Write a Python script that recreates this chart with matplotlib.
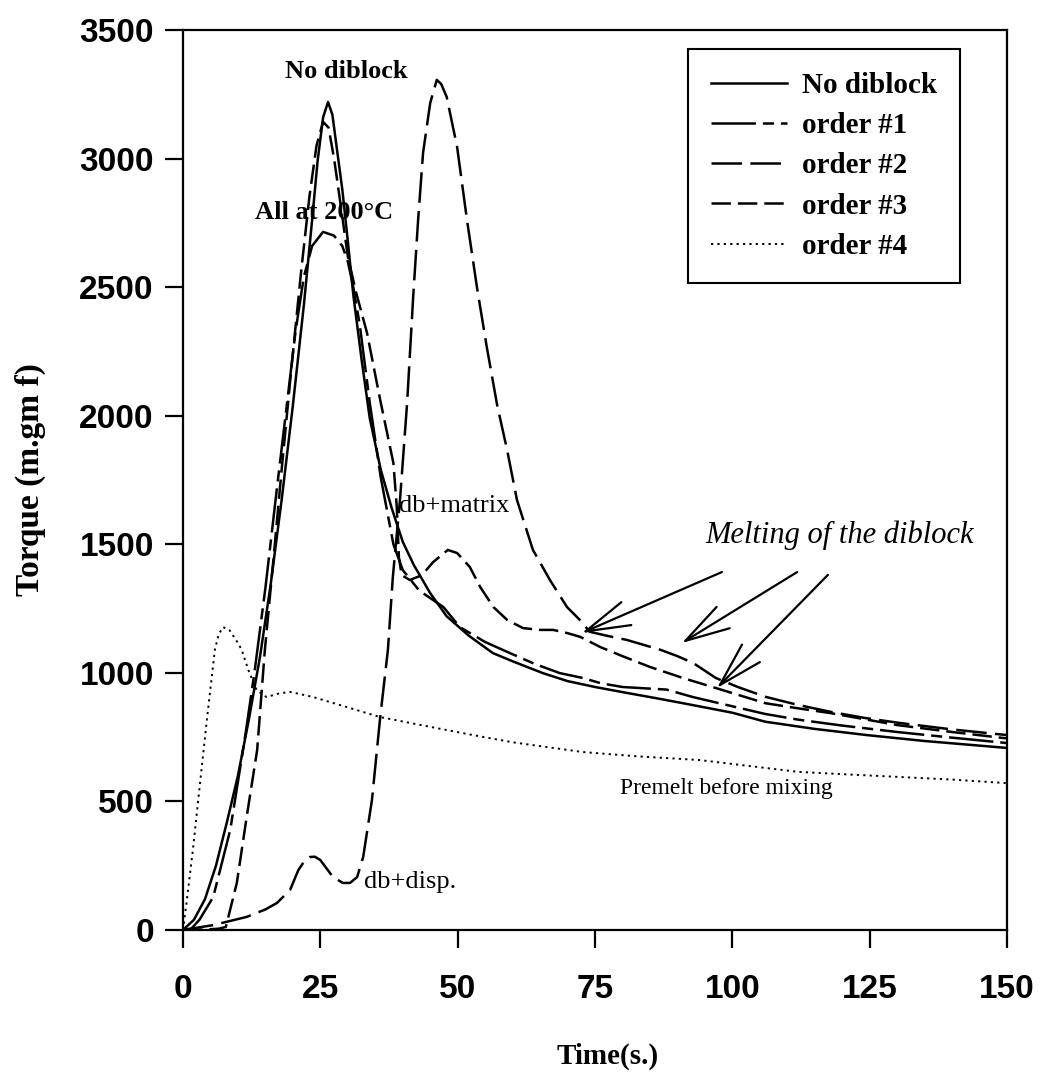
import numpy as np
import matplotlib
matplotlib.use('Agg')
import matplotlib.pyplot as plt

plt.rc('font', family='Liberation Sans', weight='bold', size=22)
plt.rc('lines', linewidth=1.8, scale_dashes=False)
plt.rc('axes', linewidth=1.6)

SERIF = 'Liberation Serif'

# torque traces, time in s and torque in m.gm f
t_nodb = [0, 2, 4, 6, 8, 10, 12, 14, 16, 18, 20, 22, 23.5, 24.5, 25.5, 26.4, 27.2, 28, 29, 30,
          31, 32.5, 34, 36, 38, 40, 42, 45, 48, 52, 56.4, 60, 65.5, 70, 75, 80.8, 86, 91, 100,
          106, 115, 124.5, 135, 150]
v_nodb = [0, 40, 120, 250, 420, 600, 820, 1060, 1350, 1680, 2040, 2430, 2760, 2990, 3160, 3220,
          3170, 3040, 2880, 2680, 2470, 2220, 1990, 1790, 1640, 1510, 1420, 1310, 1220, 1145, 1077,
          1045, 999, 968, 945, 922, 902, 882, 845, 810, 782, 758, 735, 708]

t_ord1 = [0, 1.5, 3, 5.5, 8.6, 11.3, 13, 15, 17, 19, 20.5, 22, 23.5, 25.5, 27.5, 29, 30, 31,
          32.2, 34, 36, 38.3, 40, 43, 47.4, 50.4, 55, 59.5, 64, 68.6, 72.8, 76, 80, 84, 88, 92.8,
          100, 106, 112, 120, 130, 140, 150]
v_ord1 = [0, 5, 40, 128, 389, 751, 1000, 1330, 1700, 2060, 2330, 2540, 2660, 2715, 2700, 2660,
          2600, 2500, 2350, 2050, 1760, 1500, 1400, 1320, 1256, 1178, 1120, 1077, 1035, 999, 980,
          960, 945, 940, 935, 906, 870, 840, 818, 795, 770, 748, 727]

t_ord2 = [0, 5.5, 11.6, 15, 17.1, 19.5, 21, 22, 23.1, 24, 25, 27.3, 29.1, 30.4, 31.7, 32.8, 34.4,
          35.9, 37.3, 38.2, 39.5, 40.8, 41.9, 42.8, 43.7, 45, 46.2, 47, 48, 49.9, 51.7, 53.5, 55.3,
          57.2, 59, 60.8, 63.7, 66.8, 69.9, 72.6, 74, 77, 80.8, 84, 87, 90, 92.9, 97, 101, 106,
          112, 118, 124, 130.5, 140, 150]
v_ord2 = [0, 19, 51, 80, 105, 156, 233, 265, 284, 285, 272, 206, 183, 183, 206, 284, 506,
          828, 1089, 1373, 1672, 2050, 2462, 2761, 3022, 3216, 3306, 3290, 3240, 3045, 2761, 2501,
          2267, 2040, 1867, 1672, 1478, 1361, 1256, 1198, 1160, 1145, 1128, 1108, 1089, 1065, 1038,
          980, 945, 907, 875, 848, 825, 805, 780, 758]

t_ord3 = [0, 4, 6.5, 7.8, 9.8, 11.6, 13.5, 14.9, 16.5, 18, 19.8, 21.5, 23, 24.3, 25.5, 26.5,
          27.5, 28.5, 30, 31.5, 33.5, 35.9, 38.3, 38.9, 39.3, 39.8, 41.3, 43.5, 45.5, 48.2, 49.9,
          52.2, 54.1, 56.5, 59, 61.9, 65, 67.4, 69.9, 72.3, 76, 80, 85, 91, 97, 106, 112, 118,
          124, 130, 140, 150]
v_ord3 = [0, 2, 5, 12, 183, 441, 700, 1089, 1450, 1800, 2200, 2560, 2850, 3050, 3143, 3120,
          3000, 2850, 2620, 2480, 2322, 2061, 1816, 1650, 1450, 1380, 1361, 1380, 1430, 1478, 1466,
          1412, 1334, 1256, 1206, 1174, 1167, 1167, 1155, 1140, 1100, 1065, 1023, 980, 941, 882,
          862, 843, 820, 797, 770, 745]

t_ord4 = [0, 0.7, 1.8, 3.1, 4.4, 5.8, 6.5, 7.3, 8.5, 10, 10.7, 11.9, 13.4, 15.2, 17.5, 19.5,
          23.7, 29.8, 35.9, 45, 52.8, 60, 72.8, 83, 94, 103, 112, 121, 130.5, 140, 150]
v_ord4 = [0, 117, 311, 571, 828, 1089, 1150, 1178, 1165, 1116, 1089, 1011, 933, 906, 920, 926,
          906, 867, 828, 790, 758, 730, 692, 675, 661, 638, 615, 605, 595, 585, 571]

labels = ['No diblock', 'order #1', 'order #2', 'order #3', 'order #4']
styles = ['-', (0, (32, 5, 8, 5)), (0, (22, 6)), (0, (14, 5)), (0, (1.6, 3))]
widths = [1.8, 1.8, 1.8, 1.8, 1.4]

x_ticks = [0, 25, 50, 75, 100, 125, 150]
y_ticks = [0, 500, 1000, 1500, 2000, 2500, 3000, 3500]

# (text, time, torque, weight, size)
notes = [('No diblock', 29.8, 3337, 'bold', 19),
         ('All at 200°C', 25.7, 2789, 'bold', 19),
         ('db+matrix', 49.3, 1649, 'normal', 19),
         ('db+disp.', 41.3, 187, 'normal', 19),
         ('Premelt before mixing', 99, 552, 'normal', 17)]

# melting arrows: tail (t, torque) -> tip (t, torque)
arrows = [((98.1, 1392), (72.6, 1155)),
          ((111.8, 1392), (90.8, 1116)),
          ((117.4, 1381), (97.2, 941))]


fig = plt.figure(figsize=(10.44, 10.72), dpi=100)
ax = fig.add_axes([183/1044., 1 - 930/1072., 824/1044., 900/1072.])

series = [(t_nodb, v_nodb), (t_ord1, v_ord1), (t_ord2, v_ord2), (t_ord3, v_ord3), (t_ord4, v_ord4)]
handles = []
for (t, v), lab, ls, lw in zip(series, labels, styles, widths):
  h, = ax.plot(t, v, color='k', linestyle=ls, linewidth=lw, label=lab, zorder=2)
  handles.append(h)

for txt, t, v, wt, fs in notes:
  ax.text(t, v, txt, family=SERIF, weight=wt, fontsize=fs, ha='center', va='center', zorder=1)

ax.text(119.6, 1536, 'Melting of the diblock', family=SERIF, style='italic', weight='normal',
        fontsize=22, ha='center', va='center')

for tail, tip in arrows:
  ax.annotate('', xy=tip, xytext=tail,
              arrowprops=dict(arrowstyle='->,head_length=1.6,head_width=0.45', color='k',
                              lw=1.6, shrinkA=0, shrinkB=0, mutation_scale=20))

ax.set_xlim(0, 150)
ax.set_ylim(0, 3500)
ax.set_xticks(x_ticks)
ax.set_yticks(y_ticks)
ax.tick_params(direction='out', length=13, width=1.6, labelsize=24)
ax.tick_params(axis='y', pad=8)
ax.tick_params(axis='x', pad=19)

ax.set_xlabel('Time(s.)', family=SERIF, weight='bold', fontsize=21, labelpad=22)
ax.xaxis.set_label_coords(0.515, -0.125)
ax.set_ylabel('Torque (m.gm f)', family=SERIF, weight='bold', fontsize=24, labelpad=24)

leg = ax.legend(handles=handles, loc='upper right', bbox_to_anchor=(0.943, 0.979),
                prop={'family': SERIF, 'weight': 'bold', 'size': 21},
                handlelength=2.6, handletextpad=0.5, labelspacing=0.45,
                borderpad=0.8, borderaxespad=0, fancybox=False, framealpha=1, edgecolor='k')
leg.get_frame().set_linewidth(1.5)

plt.savefig('out.png', dpi=100)
